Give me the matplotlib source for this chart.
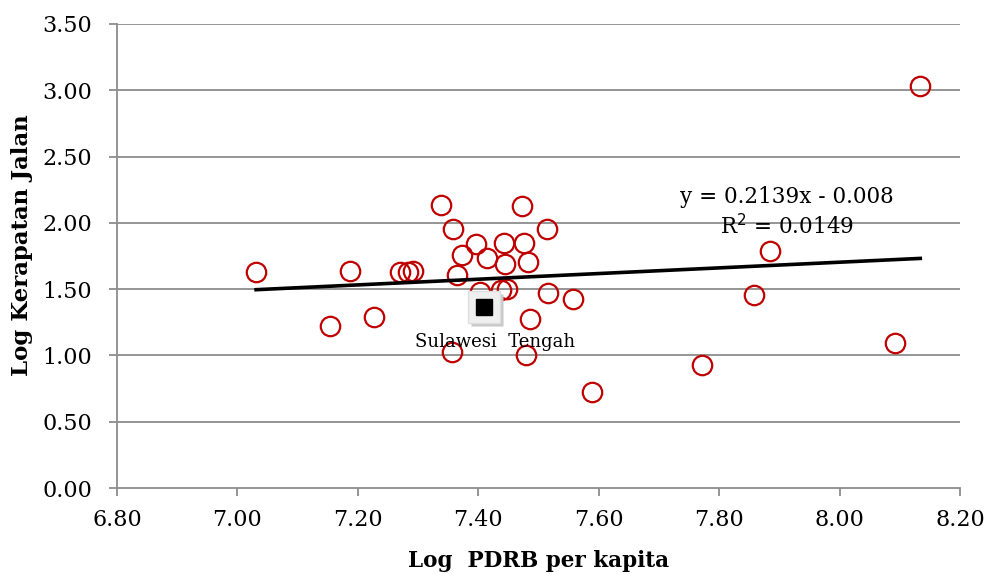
import numpy as np
import matplotlib.pyplot as plt

# log PDRB per kapita vs log kerapatan jalan
log_pdrb = [7.031, 7.154, 7.187, 7.227, 7.270, 7.283, 7.292, 7.338, 7.358, 7.373,
            7.365, 7.396, 7.415, 7.403, 7.356, 7.443, 7.444, 7.438, 7.447, 7.473,
            7.476, 7.483, 7.514, 7.516, 7.486, 7.479, 7.557, 7.589, 7.772, 7.858,
            7.885, 8.092, 8.134]
log_jalan = [1.629, 1.220, 1.640, 1.290, 1.630, 1.630, 1.637, 2.135, 1.954, 1.755,
             1.607, 1.840, 1.735, 1.478, 1.026, 1.848, 1.690, 1.494, 1.500, 2.127,
             1.848, 1.705, 1.954, 1.470, 1.275, 1.003, 1.426, 0.724, 0.928, 1.456,
             1.788, 1.094, 3.032]

# highlighted province
sulteng_x = 7.41
sulteng_y = 1.365
sulteng_name = "Sulawesi  Tengah"

slope = 0.2139
intercept = -0.008
r2 = 0.0149

xticks = [6.8, 7.0, 7.2, 7.4, 7.6, 7.8, 8.0, 8.2]
yticks = [0.0, 0.5, 1.0, 1.5, 2.0, 2.5, 3.0, 3.5]

plt.rcParams['font.family'] = ['DejaVu Serif']

fig = plt.figure(figsize=(9.84, 5.74), dpi=100)
ax = fig.add_axes([0.1189, 0.1498, 0.8567, 0.8084])

grid_c = '#8c8c8c'
for yt in yticks[1:]:
    ax.axhline(yt, color=grid_c, lw=1.3, zorder=0)

ax.plot(log_pdrb, log_jalan, 'o', ms=14, mfc='none', mec='#c00000', mew=1.6, zorder=3)

xs = np.array([min(log_pdrb), max(log_pdrb)])
ax.plot(xs, slope * xs + intercept, color='black', lw=2.6, zorder=4)

# highlighted marker: grey box with shadow and black square
ax.plot(sulteng_x + 0.005, sulteng_y - 0.025, 's', ms=23, mfc='#c8c8c8', mec='none', zorder=5)
ax.plot(sulteng_x, sulteng_y, 's', ms=23, mfc='#efefef', mec='#dedede', zorder=6)
ax.plot(sulteng_x, sulteng_y, 's', ms=12, mfc='black', mec='black', zorder=7)
ax.text(7.428, 1.10, sulteng_name, ha='center', va='center', fontsize=13, zorder=8)

ax.text(7.913, 2.08, f"y = {slope}x - {abs(intercept)}\nR$^2$ = {r2:.4f}",
        ha='center', va='center', fontsize=15.5, linespacing=1.3, zorder=8)

ax.set_xlim(6.8, 8.2)
ax.set_ylim(0, 3.5)
ax.set_xticks(xticks)
ax.set_yticks(yticks)
ax.set_xticklabels([f"{v:.2f}" for v in xticks])
ax.set_yticklabels([f"{v:.2f}" for v in yticks])
ax.tick_params(axis='both', labelsize=16, color=grid_c, width=1.3, length=6, direction='out')
ax.tick_params(axis='x', pad=9)
ax.tick_params(axis='y', pad=12)
for s in ['top', 'right']:
    ax.spines[s].set_visible(False)
for s in ['left', 'bottom']:
    ax.spines[s].set_color(grid_c)
    ax.spines[s].set_linewidth(1.3)

ax.set_xlabel("Log  PDRB per kapita", fontsize=15.5, fontweight='bold', labelpad=14)
ax.set_ylabel("Log Kerapatan Jalan", fontsize=16.5, fontweight='bold')
ax.yaxis.set_label_coords(-0.100, 0.524)

fig.savefig('out.png', dpi=100)
